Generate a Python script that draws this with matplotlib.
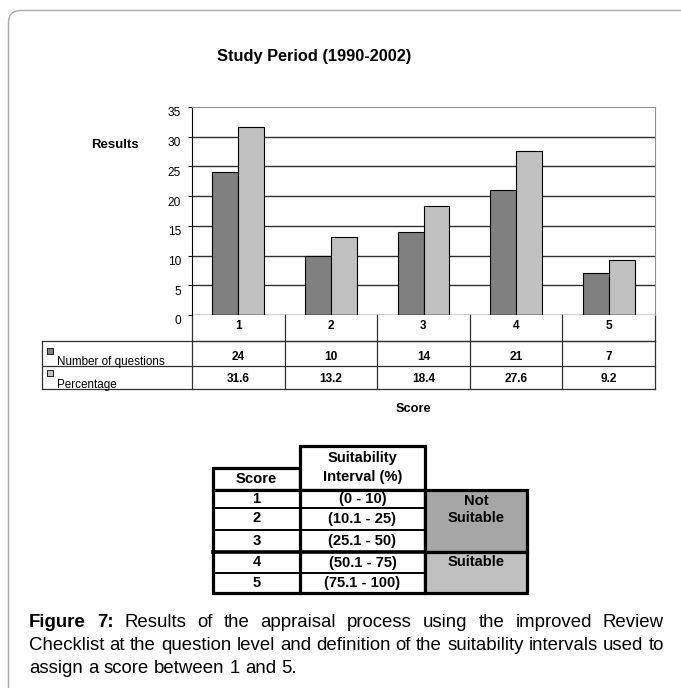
import matplotlib
matplotlib.use("Agg")
import matplotlib.pyplot as plt
from matplotlib.patches import Rectangle, FancyBboxPatch
import matplotlib.transforms as mtransforms

plt.rcParams['font.family'] = ['Liberation Sans', 'DejaVu Sans']

# ---------------- data ----------------
scores = ['1', '2', '3', '4', '5']
num_questions = [24, 10, 14, 21, 7]
percentage = [31.6, 13.2, 18.4, 27.6, 9.2]
series_labels = ['Number of questions', 'Percentage']
yticks = [0, 5, 10, 15, 20, 25, 30, 35]
title = 'Study Period (1990-2002)'
ylabel = 'Results'
xlabel = 'Score'

table_headers = ['Score', 'Suitability\nInterval (%)']
intervals = ['(0 - 10)', '(10.1 - 25)', '(25.1 - 50)', '(50.1 - 75)', '(75.1 - 100)']
suitability = ['Not\nSuitable', 'Suitable']
caption_bold = 'Figure 7:'
caption_lines = [
    'Results of the appraisal process using the improved Review',
    'Checklist at the question level and definition of the suitability intervals used to',
    'assign a score between 1 and 5.',
]

# ---------------- style ----------------
W, H = 681, 688
dark = '#808080'
light = '#c0c0c0'
series_colors = [dark, light]

fig = plt.figure(figsize=(W / 100, H / 100), dpi=100)
fig.patch.set_facecolor('white')

# overlay in pixel coordinates (y downward)
ov = fig.add_axes([0, 0, 1, 1], zorder=0)
ov.set_xlim(0, W)
ov.set_ylim(H, 0)
ov.axis('off')

# frame
ov.add_patch(FancyBboxPatch((8.5, 10.5), 720, 720,
                            boxstyle='round,pad=0,rounding_size=12',
                            ec='#a8a8a8', fc='none', lw=1.0))

# ---------------- bar chart ----------------
ax_l, ax_r, ax_t, ax_b = 192, 655, 107, 315
ax = fig.add_axes([ax_l / W, 1 - ax_b / H, (ax_r - ax_l) / W, (ax_b - ax_t) / H], zorder=2)
ax.patch.set_alpha(0)
x = list(range(len(scores)))
bw = 0.28
ax.bar([i - bw / 2 for i in x], num_questions, width=bw, color=series_colors[0],
       edgecolor='black', linewidth=0.8, zorder=3)
ax.bar([i + bw / 2 for i in x], percentage, width=bw, color=series_colors[1],
       edgecolor='black', linewidth=0.8, zorder=3)
ax.set_xlim(-0.5, len(scores) - 0.5)
ax.set_ylim(0, 35)
ax.set_yticks(yticks)
ax.set_yticklabels([str(t) for t in yticks], fontsize=8.6)
for t in yticks[1:-1]:
    ax.axhline(t, color='#303030', lw=1.0, zorder=1)
ax.axhline(0, color='black', lw=1.0, zorder=4)
ax.set_xticks([])
ax.spines['top'].set_color('#909090')
ax.spines['right'].set_color('#909090')
ax.spines['bottom'].set_visible(False)
ax.spines['left'].set_color('black')
ax.tick_params(axis='y', length=3, width=0.8, pad=5, colors='black')
off = mtransforms.ScaledTranslation(0, -5 / 100, fig.dpi_scale_trans)
for lab in ax.get_yticklabels():
    lab.set_transform(lab.get_transform() + off)

ov.text(314, 57, title, ha='center', va='center', fontsize=11.8, fontweight='bold')
ov.text(115, 145, ylabel, ha='center', va='center', fontsize=9.5, fontweight='bold')
ov.text(413, 409, xlabel, ha='center', va='center', fontsize=9.2, fontweight='bold')

# ---------------- data table under chart ----------------
lc = '#303030'
row_y = [315, 341, 366, 389]
tab_left = 42
colw = (ax_r - ax_l) / len(scores)
ov.plot([ax_l, ax_r], [row_y[1], row_y[1]], color=lc, lw=0.9)
ov.plot([tab_left, ax_r], [row_y[1], row_y[1]], color=lc, lw=0.9)
ov.plot([tab_left, ax_r], [row_y[2], row_y[2]], color=lc, lw=0.9)
ov.plot([tab_left, ax_r], [row_y[3], row_y[3]], color=lc, lw=0.9)
ov.plot([tab_left, tab_left], [row_y[1], row_y[3]], color=lc, lw=0.9)
for k in range(len(scores) + 1):
    xx = ax_l + k * colw
    ov.plot([xx, xx], [row_y[0], row_y[3]], color=lc, lw=0.9)

for k, s in enumerate(scores):
    cx = ax_l + (k + 0.5) * colw
    ov.text(cx, 326, s, ha='center', va='center', fontsize=8.6, fontweight='bold')
    ov.text(cx, 357, str(num_questions[k]), ha='center', va='center', fontsize=8.6, fontweight='bold')
    ov.text(cx, 379, str(percentage[k]), ha='center', va='center', fontsize=8.6, fontweight='bold')

for j, (lbl, col) in enumerate(zip(series_labels, series_colors)):
    ytop = [347.5, 369.5][j]
    ov.add_patch(Rectangle((47, ytop), 6, 6, fc=col, ec='black', lw=0.6))
    ov.text(57, [365, 388][j], lbl, ha='left', va='baseline', fontsize=8.4)

# ---------------- suitability table ----------------
xs0, xs1, xs2, xs3 = 213, 300, 425, 527
ry = [490, 507.5, 529.5, 552, 573, 593]
thick = 2.3
ov.add_patch(Rectangle((xs0, 468), xs1 - xs0, 490 - 468, fc='white', ec='black', lw=thick, zorder=3))
ov.add_patch(Rectangle((xs1, 446), xs2 - xs1, 490 - 446, fc='white', ec='black', lw=thick, zorder=3))
ov.add_patch(Rectangle((xs0, ry[0]), xs2 - xs0, ry[-1] - ry[0], fc='white', ec='black', lw=thick, zorder=3))
ov.plot([xs1, xs1], [ry[0], ry[-1]], color='black', lw=thick, zorder=4)
for k in range(1, 5):
    ov.plot([xs0, xs2], [ry[k], ry[k]], color='black', lw=(2.6 if k == 3 else 1.4), zorder=4)
ov.add_patch(Rectangle((xs2, ry[0]), xs3 - xs2, ry[3] - ry[0], fc='#a6a6a6', ec='black', lw=thick, zorder=3))
ov.add_patch(Rectangle((xs2, ry[3]), xs3 - xs2, ry[-1] - ry[3], fc='#c0c0c0', ec='black', lw=thick, zorder=3))

tfs = 10.6
ov.text((xs0 + xs1) / 2, 479, table_headers[0], ha='center', va='center', fontsize=tfs, fontweight='bold', zorder=5)
ov.text((xs1 + xs2) / 2, 467.5, table_headers[1], ha='center', va='center', fontsize=tfs, fontweight='bold',
        linespacing=1.4, zorder=5)
for k in range(5):
    cy = (ry[k] + ry[k + 1]) / 2
    ov.text((xs0 + xs1) / 2, cy, scores[k], ha='center', va='center', fontsize=tfs, fontweight='bold', zorder=5)
    ov.text((xs1 + xs2) / 2, cy, intervals[k], ha='center', va='center', fontsize=tfs, fontweight='bold', zorder=5)
ov.text((xs2 + xs3) / 2, 509.5, suitability[0], ha='center', va='center', fontsize=tfs, fontweight='bold',
        linespacing=1.35, zorder=5)
ov.text((xs2 + xs3) / 2, 562, suitability[1], ha='center', va='center', fontsize=tfs, fontweight='bold', zorder=5)

# ---------------- caption (justified) ----------------
renderer = fig.canvas.get_renderer()
cfs = 13.4
cx0, cx1 = 29, 664
line_base = [627, 650, 673]


def draw_line(words, y, justify):
    arts = []
    for w, bold in words:
        t = ov.text(0, y, w, ha='left', va='baseline', fontsize=cfs,
                    fontweight='bold' if bold else 'normal')
        arts.append(t)
    widths = [a.get_window_extent(renderer).width for a in arts]
    t1 = ov.text(0, y, 'a a', fontsize=cfs)
    t2 = ov.text(0, y, 'aa', fontsize=cfs)
    space = t1.get_window_extent(renderer).width - t2.get_window_extent(renderer).width
    t1.remove()
    t2.remove()
    if justify and len(words) > 1:
        gap = (cx1 - cx0 - sum(widths)) / (len(words) - 1)
    else:
        gap = space
    xx = cx0
    for a, w in zip(arts, widths):
        a.set_x(xx)
        xx += w + gap


first = [(w, True) for w in caption_bold.split()] + [(w, False) for w in caption_lines[0].split()]
draw_line(first, line_base[0], True)
draw_line([(w, False) for w in caption_lines[1].split()], line_base[1], True)
draw_line([(w, False) for w in caption_lines[2].split()], line_base[2], False)

fig.savefig('out.png', dpi=100, facecolor='white')
